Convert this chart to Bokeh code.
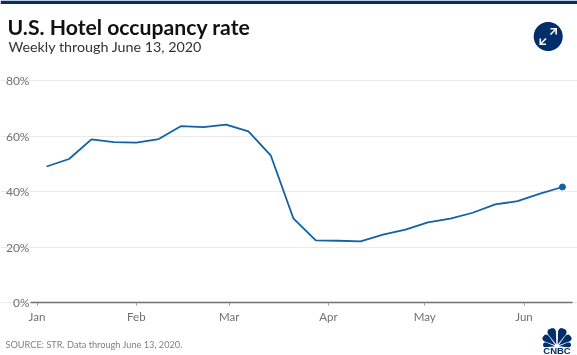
import math
import pandas as pd
from bokeh.embed import file_html
from bokeh.resources import INLINE
from bokeh.plotting import figure
from bokeh.models import (ColumnDataSource, FixedTicker, Label, PolyAnnotation, Range1d)

W, H = 577, 355
TITLE = "U.S. Hotel occupancy rate"
SUBTITLE = "Weekly through June 13, 2020"
SOURCE = "SOURCE: STR. Data through June 13, 2020."
week_ending = pd.date_range("2020-01-04", "2020-06-13", freq="7D")
occupancy = [49.1, 51.8, 58.9, 57.9, 57.7, 59.0, 63.7, 63.3, 64.2, 61.8, 53.0, 30.4,
             22.4, 22.3, 22.1, 24.5, 26.3, 28.9, 30.3, 32.4, 35.4, 36.6, 39.3, 41.7]
month_dates = pd.to_datetime(["2020-01-01", "2020-02-01", "2020-03-01", "2020-04-01", "2020-05-01", "2020-06-01"])
month_labels = ["Jan", "Feb", "Mar", "Apr", "May", "Jun"]
y_ticks = [0, 20, 40, 60, 80]
y_labels = ["0%", "20%", "40%", "60%", "80%"]

NAVY = "#002f6c"
BLUE = "#0f62a6"
FONT = "Lato"

def ms(d):
    return pd.Timestamp(d).timestamp() * 1000

day = 86400000.0
PX_PER_DAY = 3.204
PX_PER_PCT = 2.77
X_JAN1, Y_ZERO = 36.5, 302
def DX(x):
    return ms("2020-01-01") + (x - X_JAN1) / PX_PER_DAY * day
def DY(y):
    return (Y_ZERO - y) / PX_PER_PCT

# the frame fills the whole canvas, because annotations are clipped to it
p = figure(width=W, height=H, output_backend="svg", toolbar_location=None,
           x_axis_type="datetime",
           x_range=Range1d(DX(0), DX(W)), y_range=Range1d(DY(H), DY(0)),
           min_border=0,
           styles={"position": "fixed", "left": "0px", "top": "0px"})
p.outline_line_color = None
p.background_fill_color = "white"
p.border_fill_color = "white"

p.xgrid.grid_line_color = None
p.ygrid.grid_line_color = "#ebebeb"
p.ygrid.grid_line_width = 1
p.ygrid.ticker = FixedTicker(ticks=y_ticks)
p.ygrid.bounds = (DX(31), DX(572))

p.yaxis.fixed_location = DX(31)
p.yaxis.ticker = FixedTicker(ticks=y_ticks)
p.yaxis.major_label_overrides = dict(zip(y_ticks, y_labels))
p.yaxis.axis_line_color = None
p.yaxis.major_tick_line_color = None
p.yaxis.major_tick_in = 0
p.yaxis.major_tick_out = 0
p.yaxis.minor_tick_line_color = None
p.yaxis.major_label_text_font = FONT
p.yaxis.major_label_text_font_size = "12px"
p.yaxis.major_label_text_color = "#707070"
p.yaxis.major_label_standoff = 2

tick_ms = [ms(d) for d in month_dates]
p.xaxis.fixed_location = 0
p.xaxis.bounds = (DX(30), DX(572))
p.xaxis.ticker = FixedTicker(ticks=tick_ms)
p.xaxis.major_label_overrides = dict(zip(tick_ms, month_labels))
p.xaxis.axis_line_color = "#6f6f6f"
p.xaxis.axis_line_width = 1.3
p.xaxis.major_tick_line_color = "#999999"
p.xaxis.major_tick_in = 0
p.xaxis.major_tick_out = 3
p.xaxis.minor_tick_line_color = None
p.xaxis.major_label_text_font = FONT
p.xaxis.major_label_text_font_size = "11.5px"
p.xaxis.major_label_text_color = "#707070"
p.xaxis.major_label_standoff = 4

src = ColumnDataSource(dict(x=week_ending, y=occupancy))
p.line("x", "y", source=src, line_color=BLUE, line_width=1.8, line_join="round")
p.scatter(x=[week_ending[-1]], y=[occupancy[-1]], size=6, color=BLUE)

def label(text, x, y, size, color, style="normal", font=FONT, align="left"):
    p.add_layout(Label(x=x, y=H - y, x_units="screen", y_units="screen", text=text,
                       text_font=font, text_font_size=size, text_color=color,
                       text_font_style=style, text_align=align, text_baseline="middle"))

def poly(pts, color):
    p.add_layout(PolyAnnotation(xs=[DX(a) for a, _ in pts], ys=[DY(b) for _, b in pts],
                                fill_color=color, fill_alpha=1, line_color=None))

label(TITLE, 7, 26, "21.2px", "#111111", "bold")
label(SUBTITLE, 8, 46, "14.3px", "#333333")
label(SOURCE, 5, 344, "9.2px", "#808080")

poly([(0, 0), (W, 0), (W, 3.5), (0, 3.5)], NAVY)

# expand badge
cx, cy, r = 547.7, 36, 14.5
poly([(cx + r * math.cos(i * math.pi / 30), cy + r * math.sin(i * math.pi / 30)) for i in range(60)], NAVY)
def arrow(sx, sy, ex, ey, sign):
    dx, dy = ex - sx, ey - sy
    n = math.hypot(dx, dy)
    nx, ny = -dy / n * 0.8, dx / n * 0.8
    poly([(sx + nx, sy + ny), (ex + nx, ey + ny), (ex - nx, ey - ny), (sx - nx, sy - ny)], "white")
    poly([(ex + sign, ey - sign), (ex + sign * -5.5, ey - sign), (ex + sign * -5.5, ey + sign * 0.6),
          (ex - sign * 0.6, ey + sign * 0.6), (ex - sign * 0.6, ey + sign * 5.5), (ex + sign, ey + sign * 5.5)], "white")
arrow(550, 34, 555.5, 28.5, 1)
arrow(545.5, 38, 540, 43.5, -1)

# peacock
px, py = 556.5, 346
for a0, a1, rr in [(184, 160, 14), (158, 128, 17), (126, 94, 19), (86, 54, 19), (52, 22, 17), (20, -4, 14)]:
    mid = (a0 + a1) / 2
    half = (a0 - a1) / 2
    pts = [(px + 2 * math.cos(math.radians(mid)), py - 2 * math.sin(math.radians(mid)))]
    for k in range(-6, 7):
        t = k / 6
        ang = mid + half * t
        rad = rr * (1 - 0.18 * t ** 4)
        pts.append((px + rad * math.cos(math.radians(ang)), py - rad * math.sin(math.radians(ang))))
    poly(pts, NAVY)
label("CNBC", 556.5, 349.5, "9.5px", NAVY, "bold", "Liberation Sans", "center")

open("out.html", "w").write(file_html(p, INLINE))
